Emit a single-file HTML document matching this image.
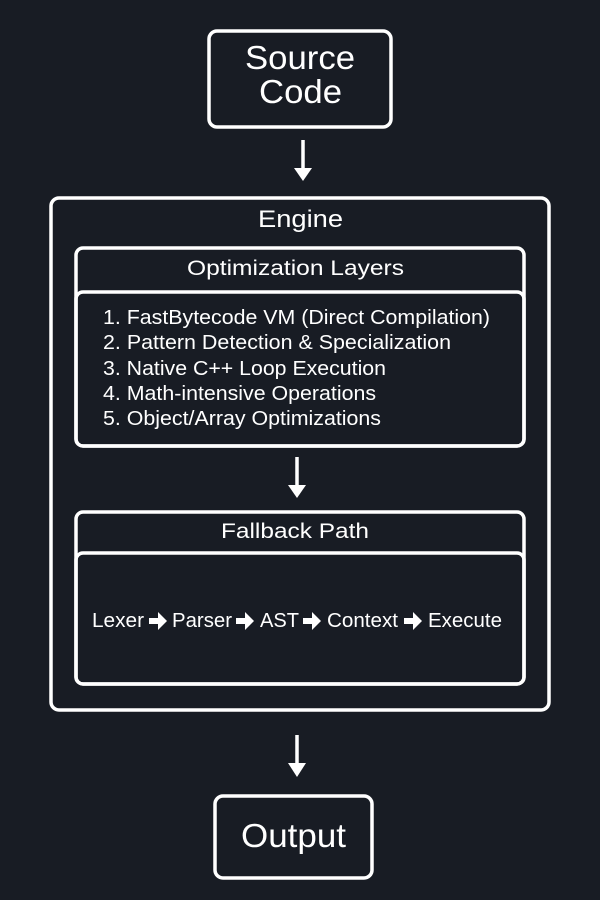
<!DOCTYPE html>
<html><head><style>
html,body{margin:0;padding:0;background:#181c24;}
svg{display:block}
text{font-family:"Liberation Sans",sans-serif;fill:#fff}
</style></head><body>
<svg width="600" height="900" viewBox="0 0 600 900" xmlns="http://www.w3.org/2000/svg">
<rect width="600" height="900" fill="#181c24"/>
<g fill="none" stroke="#fff" stroke-width="3.5">
<rect x="209" y="31" width="182" height="96" rx="8"/>
<rect x="51" y="198" width="498" height="512" rx="8"/>
<rect x="76" y="248" width="448" height="198" rx="7"/>
<rect x="76" y="292" width="448" height="154" rx="7"/>
<rect x="76" y="512" width="448" height="172" rx="7"/>
<rect x="76" y="553" width="448" height="131" rx="7"/>
<rect x="215" y="796" width="157" height="82" rx="8"/>
<line x1="303" y1="140" x2="303" y2="170"/>
<line x1="297" y1="457" x2="297" y2="487"/>
<line x1="297" y1="735" x2="297" y2="765"/>
</g>
<g fill="#fff">
<polygon points="294,168 312,168 303,181"/>
<polygon points="288,485 306,485 297,498"/>
<polygon points="288,763 306,763 297,777"/>
</g>
<g lengthAdjust="spacingAndGlyphs">
<text x="245" y="69" font-size="33" textLength="110" lengthAdjust="spacingAndGlyphs">Source</text>
<text x="259" y="103" font-size="33" textLength="83" lengthAdjust="spacingAndGlyphs">Code</text>
<text x="258" y="227" font-size="24" textLength="85" lengthAdjust="spacingAndGlyphs">Engine</text>
<text x="187" y="275" font-size="21" textLength="217" lengthAdjust="spacingAndGlyphs">Optimization Layers</text>
<text x="103" y="324" font-size="20" textLength="387" lengthAdjust="spacingAndGlyphs">1. FastBytecode VM (Direct Compilation)</text>
<text x="103" y="349" font-size="20" textLength="348" lengthAdjust="spacingAndGlyphs">2. Pattern Detection &amp; Specialization</text>
<text x="103" y="375" font-size="20" textLength="283" lengthAdjust="spacingAndGlyphs">3. Native C++ Loop Execution</text>
<text x="103" y="400" font-size="20" textLength="273" lengthAdjust="spacingAndGlyphs">4. Math-intensive Operations</text>
<text x="103" y="425" font-size="20" textLength="278" lengthAdjust="spacingAndGlyphs">5. Object/Array Optimizations</text>
<text x="221" y="538" font-size="21" textLength="148" lengthAdjust="spacingAndGlyphs">Fallback Path</text>
<text x="92" y="627" font-size="20" textLength="52" lengthAdjust="spacingAndGlyphs">Lexer</text>
<text x="172" y="627" font-size="20" textLength="60" lengthAdjust="spacingAndGlyphs">Parser</text>
<text x="260" y="627" font-size="20" textLength="39" lengthAdjust="spacingAndGlyphs">AST</text>
<text x="327" y="627" font-size="20" textLength="71" lengthAdjust="spacingAndGlyphs">Context</text>
<text x="428" y="627" font-size="20" textLength="74" lengthAdjust="spacingAndGlyphs">Execute</text>
<text x="241" y="847" font-size="33" textLength="105" lengthAdjust="spacingAndGlyphs">Output</text>
</g>
<g fill="#fff">
<path d="M149,618h9v-6l9,9l-9,9v-6h-9z"/>
<path d="M236,618h9v-6l9,9l-9,9v-6h-9z"/>
<path d="M303,618h9v-6l9,9l-9,9v-6h-9z"/>
<path d="M404,618h9v-6l9,9l-9,9v-6h-9z"/>
</g>
</svg>
</body></html>
